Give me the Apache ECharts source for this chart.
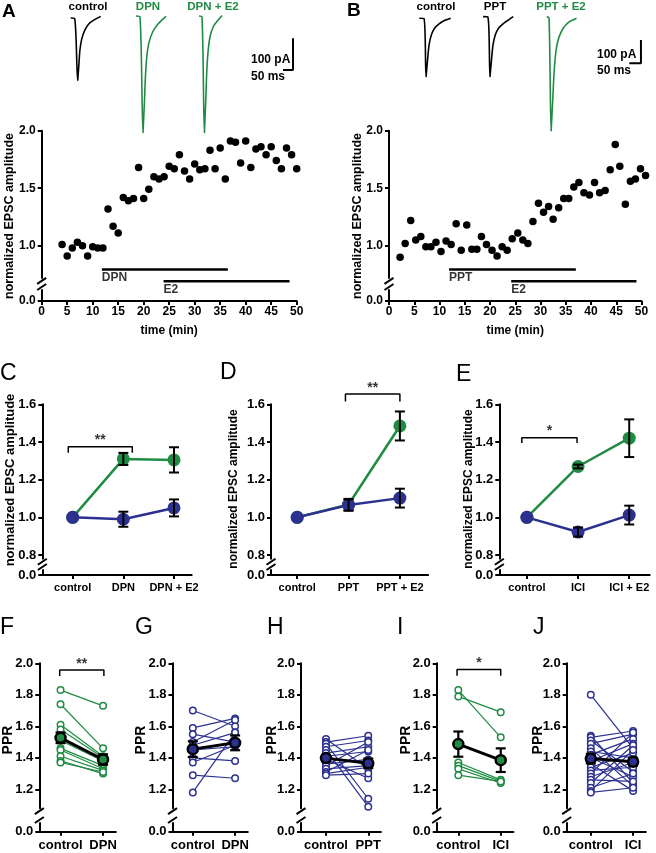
<!DOCTYPE html>
<html><head><meta charset="utf-8">
<script src="https://cdn.jsdelivr.net/npm/echarts@6/dist/echarts.min.js"></script>
<style>html,body{margin:0;padding:0;background:#fff}#c{width:656px;height:853px}</style>
</head><body><div id="c"></div><script>
// ---------------- DATA ----------------
// Panel A time course (DPN then E2)
const timeA = [4,5,6,7,8,9,10,11,12,13,14,15,16,17,18,19,20,21,22,23,24,25,26,27,28,29,30,31,32,33,34,35,36,37,38,39,40,41,42,43,44,45,46,47,48,49,50];
const ampA = [1.01,0.91,0.98,1.03,1.00,0.91,0.99,0.98,0.98,1.32,1.17,1.11,1.42,1.39,1.41,1.68,1.41,1.49,1.60,1.58,1.60,1.69,1.67,1.79,1.65,1.58,1.71,1.66,1.67,1.83,1.67,1.85,1.58,1.91,1.90,1.72,1.91,1.68,1.84,1.86,1.79,1.86,1.74,1.67,1.85,1.79,1.67];
// Panel B time course (PPT then E2)
const timeB = [2.2,3.2,4.3,5.3,6.3,7.3,8.3,9.3,10.3,11.3,12.3,13.3,14.3,15.4,16.4,17.4,18.3,19.3,20.4,21.4,22.4,23.4,24.4,25.5,26.5,27.5,28.5,29.6,30.6,31.6,32.5,33.6,34.6,35.6,36.6,37.6,38.6,39.7,40.7,41.7,42.8,43.8,44.8,45.7,46.8,47.8,48.8,49.8,50.8];
const ampB = [0.90,1.02,1.22,1.05,1.08,0.99,0.99,1.03,0.95,1.04,1.01,1.19,0.96,1.18,0.97,0.97,1.08,1.01,0.96,0.91,0.99,0.96,1.06,1.11,1.05,1.02,1.21,1.37,1.29,1.34,1.23,1.33,1.41,1.41,1.51,1.55,1.46,1.44,1.55,1.46,1.48,1.66,1.88,1.69,1.36,1.56,1.58,1.67,1.61];
// drug application bars: [label, start(min), end(min), level]
const barsA = [['DPN',11.8,36.5,0.794],['E2',23.9,48.6,0.69]];
const barsB = [['PPT',11.9,37.0,0.794],['E2',24.2,49.0,0.69]];
const timeTicks = [0,5,10,15,20,25,30,35,40,45,50];
const yTicksAB = [1.0,1.5,2.0];

// EPSC traces (ms, pA)
const trCtrlA_t = [0,20,35,38,41,46,55,70,90,115,150];
const trCtrlA_i = [-3,-5,-200,-200,-150,-105,-70,-42,-22,-10,2];
const trDpnA_t  = [0,20,35,38,42,47,54,65,85,110,150];
const trDpnA_i  = [3,0,-365,-365,-270,-190,-125,-80,-45,-22,2];
const trDpnE2A_t= [0,15,27,30,34,39,46,56,72,95,115];
const trDpnE2A_i= [3,0,-365,-365,-260,-170,-105,-60,-30,-10,5];
const trCtrlB_t = [0,20,29,32,36,42,52,65,85,110,135];
const trCtrlB_i = [-1,-2,-252,-252,-175,-115,-72,-45,-25,-10,-1];
const trPptB_t  = [0,21,30,33,37,43,53,66,86,110,130];
const trPptB_i  = [6,4,-252,-252,-175,-115,-72,-45,-25,-8,6];
const trPptE2B_t= [0,10,19,22,26,32,40,52,70,95,128];
const trPptE2B_i= [6,0,-485,-485,-350,-230,-140,-85,-45,-18,-1];
const scaleBarMs = [0,50,50];
const scaleBarPa = [0,0,100];

// Panels C-E (normalized EPSC amplitude)
const catsC = ['control','DPN','DPN + E2'];
const greenC = [1.0,1.31,1.305], greenCsem = [0,0.032,0.067];
const blueC  = [1.0,0.99,1.05],  blueCsem  = [0,0.04,0.045];
const catsD = ['control','PPT','PPT + E2'];
const greenD = [1.0,1.068,1.485], greenDsem = [0,0.03,0.077];
const blueD  = [1.0,1.065,1.102], blueDsem  = [0,0.03,0.05];
const catsE = ['control','ICI','ICI + E2'];
const greenE = [1.0,1.27,1.42], greenEsem = [0,0.01,0.1];
const blueE  = [1.0,0.922,1.012], blueEsem = [0,0.024,0.05];
const yTicksCDE = [0.8,1.0,1.2,1.4,1.6];
// significance brackets: [x1, x2, y, drop]
const sigC = [-0.087,1.177,1.375,0.032];
const sigD = [0.94,2.0,1.655,0.04];
const sigE = [-0.1,0.98,1.423,0.028];

// Panels F-J (paired-pulse ratio)
const yTicksPPR = [1.2,1.4,1.6,1.8,2.0];
const catsF = ['control','DPN'];
const ctrlF = [1.83,1.74,1.61,1.58,1.51,1.46,1.45,1.41,1.38,1.37];
const drugF = [1.73,1.46,1.41,1.40,1.38,1.35,1.33,1.32,1.30,1.31];
const meanF = [1.527,1.389], semF = [0.034,0.033];
const catsG = ['control','DPN'];
const ctrlG = [1.70,1.59,1.55,1.50,1.48,1.45,1.40,1.37,1.29,1.18];
const drugG = [1.60,1.65,1.50,1.64,1.56,1.47,1.38,1.48,1.27,1.56];
const meanG = [1.455,1.495], semG = [0.05,0.047];
const catsH = ['control','PPT'];
const ctrlH = [1.52,1.50,1.49,1.47,1.45,1.43,1.41,1.39,1.36,1.35,1.33,1.31,1.30,1.29];
const drugH = [1.33,1.54,1.14,1.51,1.09,1.47,1.44,1.27,1.39,1.50,1.35,1.45,1.34,1.30];
const meanH = [1.398,1.365], semH = [0.02,0.03];
const catsI = ['control','ICI'];
const ctrlI = [1.83,1.79,1.37,1.35,1.33,1.29];
const drugI = [1.53,1.69,1.26,1.25,1.24,1.25];
const meanI = [1.487,1.385], semI = [0.08,0.075];
const catsJ = ['control','ICI'];
const ctrlJ = [1.80,1.54,1.53,1.51,1.49,1.46,1.44,1.42,1.40,1.38,1.36,1.34,1.32,1.30,1.28,1.26,1.24,1.21,1.19,1.18];
const drugJ = [1.46,1.24,1.57,1.31,1.55,1.22,1.40,1.52,1.28,1.49,1.19,1.43,1.34,1.56,1.37,1.25,1.48,1.30,1.45,1.21];
const meanJ = [1.395,1.375], semJ = [0.03,0.025];
const sigF = [-0.02,1.02,1.957,0.038];
const sigI = [-0.03,1.0,1.961,0.04];

// ---------------- BUILD ----------------
const FONT = "'Liberation Sans Narrow','Liberation Sans',Arial,sans-serif";
const FONT2 = "'Liberation Sans',Arial,sans-serif";
const GREEN = '#1f8b43', BLUE = '#2c3190';
const grids = [], xAxes = [], yAxes = [], series = [], graphic = [];

function addAxes(grid, xa, ya) {
  grids.push(Object.assign({outerBoundsMode:'none', containLabel:false}, grid));
  const gi = grids.length - 1;
  xAxes.push(Object.assign({gridIndex:gi}, xa));
  yAxes.push(Object.assign({gridIndex:gi}, ya));
  return gi;
}
const axLine = {show:true, onZero:false, lineStyle:{color:'#000', width:2}};
function tick(vals){ return {show:true, customValues:vals, length:4, inside:false, lineStyle:{color:'#000', width:2}}; }
function lab(vals, fs, fmt, margin){ return {show:true, customValues:vals, formatter:fmt, fontFamily:FONT, fontWeight:'bold', fontSize:fs, color:'#000', margin:margin}; }
const hidden = (min,max) => ({type:'value', min, max, show:false});

function brokenPanel(o) {
  const hMain = (o.ymax - o.ymin) * o.ppu;
  const main = addAxes({left:o.left, top:o.top, width:o.width, height:hMain},
    hidden(o.xmin, o.xmax),
    {type:'value', min:o.ymin, max:o.ymax, axisLine:axLine, axisTick:tick(o.yTicks),
     axisLabel:lab(o.yTicks, o.fsY, v => v.toFixed(1), o.ymargin), splitLine:{show:false}});
  const xa = {type:'value', min:o.xmin, max:o.xmax, axisLine:axLine, axisTick:tick(o.xTicks),
     axisLabel:lab(o.xTicks, o.fsX, o.xFmt, o.xmargin), splitLine:{show:false}};
  if (o.xName) Object.assign(xa, {name:o.xName, nameLocation:'middle', nameGap:o.nameGap,
     nameTextStyle:{fontFamily:FONT, fontWeight:'bold', fontSize:o.fsX, color:'#000'}});
  const zero = addAxes({left:o.left, top:o.zeroTop, width:o.width, height:o.zeroBottom - o.zeroTop}, xa,
    {type:'value', min:0, max:1, axisLine:axLine, axisTick:tick([0]),
     axisLabel:lab([0], o.fsY, () => '0.0', o.ymargin), splitLine:{show:false}});
  const mb = o.top + hMain;
  [mb + 3, o.zeroTop - 3].forEach(y => graphic.push({type:'line', z:100,
    shape:{x1:o.left - 4.5, y1:y + 3, x2:o.left + 4.5, y2:y - 3}, style:{stroke:'#000', lineWidth:2}}));
  return {main, zero};
}

function textSeries(ai, pts, labelOpt) {
  series.push({type:'scatter', xAxisIndex:ai, yAxisIndex:ai, symbolSize:0.1, clip:false, silent:true, z:10,
    itemStyle:{color:'rgba(0,0,0,0)'},
    data: pts.map(p => ({value:[p[0], p[1]], label:Object.assign({show:true, formatter:p[2], color:'#000',
      fontFamily:FONT, fontWeight:'bold'}, labelOpt)}))});
}
function errSeries(ai, data, cap, width, z) {
  series.push({type:'custom', xAxisIndex:ai, yAxisIndex:ai, z:z, clip:false, silent:true,
    encode:{x:0, y:[1,2]}, data:data,
    renderItem(params, api) {
      const x = api.value(0), p1 = api.coord([x, api.value(1)]), p2 = api.coord([x, api.value(2)]);
      const st = {stroke:'#000', lineWidth:width};
      return {type:'group', children:[
        {type:'line', shape:{x1:p1[0], y1:p1[1], x2:p2[0], y2:p2[1]}, style:st},
        {type:'line', shape:{x1:p1[0]-cap, y1:p1[1], x2:p1[0]+cap, y2:p1[1]}, style:st},
        {type:'line', shape:{x1:p2[0]-cap, y1:p2[1], x2:p2[0]+cap, y2:p2[1]}, style:st}]};
    }});
}
function bracket(ai, sig, stars, dist) {
  const [x1, x2, y, d] = sig;
  series.push({type:'line', xAxisIndex:ai, yAxisIndex:ai, clip:false, silent:true, symbol:'none', z:6,
    data:[[x1, y - d],[x1, y],[x2, y],[x2, y - d]], lineStyle:{color:'#000', width:1.5}});
  textSeries(ai, [[(x1 + x2) / 2, y, stars]], {position:'top', distance:dist, fontSize:14, fontFamily:FONT2});
}
function vtext(x, y, text, fs) {
  graphic.push({type:'text', x, y, rotation:Math.PI/2, z:100,
    style:{text, fill:'#000', font:`bold ${fs}px ${FONT}`, textAlign:'center', textVerticalAlign:'middle'}});
}
function htext(x, y, text, fs, color, align, family, weight) {
  graphic.push({type:'text', x, y, z:100,
    style:{text, fill:color || '#000', font:`${weight || 'bold'} ${fs}px ${family || FONT}`, textAlign:align || 'center', textVerticalAlign:'middle'}});
}

// ---- traces ----
function traceGrid(left, top, w, h, xmax, ymin, ymax) {
  return addAxes({left, top, width:w, height:h}, hidden(0, xmax), hidden(ymin, ymax));
}
function traceSeries(ai, t, i, color) {
  series.push({type:'line', xAxisIndex:ai, yAxisIndex:ai, data:t.map((v, k) => [v, i[k]]), symbol:'none',
    smooth:0.3, clip:false, silent:true, lineStyle:{color, width:1.6}});
}
traceSeries(traceGrid(70.7, 10.66, 32, 133.1, 160, -400, 20), trCtrlA_t, trCtrlA_i, '#000');
traceSeries(traceGrid(136, 10.66, 32, 133.1, 160, -400, 20), trDpnA_t, trDpnA_i, GREEN);
traceSeries(traceGrid(199, 10.66, 32, 133.1, 160, -400, 20), trDpnE2A_t, trDpnE2A_i, GREEN);
traceSeries(traceGrid(419.3, 8.68, 32.6, 125.8, 140, -500, 40), trCtrlB_t, trCtrlB_i, '#000');
traceSeries(traceGrid(483, 8.68, 32.6, 125.8, 140, -500, 40), trPptB_t, trPptB_i, '#000');
traceSeries(traceGrid(546.7, 8.68, 32.6, 125.8, 140, -500, 40), trPptE2B_t, trPptE2B_i, GREEN);
[[283, 38.3, 10, 31.7], [629.3, 40, 11.65, 23.3]].forEach(g => {
  const ai = traceGrid(g[0], g[1], g[2], g[3], 50, 0, 100);
  series.push({type:'line', xAxisIndex:ai, yAxisIndex:ai, data:scaleBarMs.map((v, k) => [v, scaleBarPa[k]]),
    symbol:'none', clip:false, silent:true, lineStyle:{color:'#000', width:2}});
});
htext(88, 7, 'control', 11.5); htext(148, 7, 'DPN', 11.5, GREEN); htext(213, 7, 'DPN + E2', 11.5, GREEN);
htext(436, 7, 'control', 11.5); htext(495, 7, 'PPT', 11.5); htext(561, 7, 'PPT + E2', 11.5, GREEN);
htext(251, 60, '100 pA', 12, '#000', 'left'); htext(251, 77, '50 ms', 12, '#000', 'left');
htext(597, 54.5, '100 pA', 12, '#000', 'left'); htext(597, 71, '50 ms', 12, '#000', 'left');

// ---- A & B ----
function timePanel(left, width, time, amp, bars) {
  const p = brokenPanel({left, width, xmin:0, xmax:50, top:130.7, ymin:0.72, ymax:2.0, ppu:115, zeroTop:290, zeroBottom:301,
    yTicks:yTicksAB, xTicks:timeTicks, xFmt:v => String(v), fsY:12, fsX:12, ymargin:6, xmargin:5, xName:'time (min)', nameGap:24});
  series.push({type:'scatter', xAxisIndex:p.main, yAxisIndex:p.main, clip:false, silent:true, symbolSize:7.5,
    itemStyle:{color:'#000', opacity:1}, data:time.map((t, k) => [t, amp[k]])});
  bars.forEach(b => {
    series.push({type:'line', xAxisIndex:p.main, yAxisIndex:p.main, clip:false, silent:true, symbol:'none',
      data:[[b[1], b[3]],[b[2], b[3]]], lineStyle:{color:'#000', width:2.5}});
    textSeries(p.main, [[b[1], b[3], b[0]]], {position:[0, 2], align:'left', verticalAlign:'top', fontSize:12});
  });
  return p;
}
timePanel(41.7, 255, timeA, ampA, barsA);
timePanel(389, 252.5, timeB, ampB, barsB);
vtext(10, 216, 'normalized EPSC amplitude', 12.5);
vtext(358, 216, 'normalized EPSC amplitude', 12.5);

// ---- C, D, E ----
function groupPanel(left, xmin, xmax, unit, cats, g, gs, b, bs, sig, stars) {
  const p = brokenPanel({left, width:(xmax - xmin) * unit, xmin, xmax, top:404.3, ymin:0.78, ymax:1.6, ppu:188.4,
    zeroTop:570, zeroBottom:575, yTicks:yTicksCDE, xTicks:[0,1,2], xFmt:v => cats[Math.round(v)],
    fsY:13, fsX:11, ymargin:6, xmargin:7});
  [[g, gs, GREEN, 3], [b, bs, BLUE, 4]].forEach(([vals, sems, col, z]) => {
    series.push({type:'line', xAxisIndex:p.main, yAxisIndex:p.main, clip:false, silent:true, z:z,
      data:vals.map((v, k) => [k, v]), symbol:'circle', symbolSize:13, lineStyle:{color:col, width:2.5},
      itemStyle:{color:col, opacity:1}});
    errSeries(p.main, vals.map((v, k) => [k, v - sems[k], v + sems[k]]).filter((d, k) => sems[k] > 0), 5, 2, z + 0.5);
  });
  bracket(p.main, sig, stars, -1);
  return p;
}
groupPanel(42.3, -0.6, 2.35, 50.65, catsC, greenC, greenCsem, blueC, blueCsem, sigC, '**');
groupPanel(271, -0.51, 2.55, 51.35, catsD, greenD, greenDsem, blueD, blueDsem, sigD, '**');
groupPanel(499.3, -0.54, 2.4, 51.15, catsE, greenE, greenEsem, blueE, blueEsem, sigE, '*');
vtext(10, 480, 'normalized EPSC amplitude', 13);
vtext(234, 489, 'normalized EPSC amplitude', 12);
vtext(469, 489, 'normalized EPSC amplitude', 12);

// ---- F-J ----
function pprPanel(left, xmin, unit, cats, ctrl, drug, mean, sem, col, sig, stars) {
  const xmax = 1.3;
  const p = brokenPanel({left, width:(xmax - xmin) * unit, xmin, xmax, top:663.3, ymin:1.08, ymax:2.0, ppu:157.5,
    zeroTop:823, zeroBottom:831.7, yTicks:yTicksPPR, xTicks:[0,1], xFmt:v => cats[Math.round(v)],
    fsY:13, fsX:13, ymargin:6, xmargin:7});
  ctrl.forEach((c, k) => series.push({type:'line', xAxisIndex:p.main, yAxisIndex:p.main, clip:false, silent:true, z:2,
    data:[[0, c],[1, drug[k]]], symbol:'circle', symbolSize:6.5, showSymbol:true,
    lineStyle:{color:col, width:1.2}, itemStyle:{color:'#fff', borderColor:col, borderWidth:1.5, opacity:1}}));
  errSeries(p.main, mean.map((m, k) => [k, m - sem[k], m + sem[k]]), 5, 2.2, 3);
  series.push({type:'line', xAxisIndex:p.main, yAxisIndex:p.main, clip:false, silent:true, z:4,
    data:mean.map((m, k) => [k, m]), symbol:'circle', symbolSize:10,
    lineStyle:{color:'#000', width:3}, itemStyle:{color:col, borderColor:'#000', borderWidth:2.5, opacity:1}});
  if (sig) bracket(p.main, sig, stars, -1);
  return p;
}
pprPanel(39.3, -0.5, 42.5, catsF, ctrlF, drugF, meanF, semF, GREEN, sigF, '**');
pprPanel(172.5, -0.48, 42.3, catsG, ctrlG, drugG, meanG, semG, BLUE);
pprPanel(301, -0.59, 42.3, catsH, ctrlH, drugH, meanH, semH, BLUE);
pprPanel(436.7, -0.51, 42.4, catsI, ctrlI, drugI, meanI, semI, GREEN, sigI, '*');
pprPanel(566.7, -0.57, 42.3, catsJ, ctrlJ, drugJ, meanJ, semJ, BLUE);
[8, 141.5, 272, 406, 538].forEach(x => vtext(x, 740, 'PPR', 14));

// panel letters (left aligned)
[['A',2,11.5,19,'bold'],['B',347,10.5,19,'bold'],['C',0,373.5,23,'normal'],['D',220,373,23,'normal'],
 ['E',456,375,23,'normal'],['F',0,627.5,23,'normal'],['G',135,627.5,23,'normal'],['H',267,627.5,23,'normal'],
 ['I',397,627.5,23,'normal'],['J',533,628,23,'normal']].forEach(l => htext(l[1], l[2], l[0], l[3], '#000', 'left', FONT2, l[4]));

const chart = echarts.init(document.getElementById('c'), null, {renderer:'canvas', width:656, height:853});
chart.setOption({animation:false, backgroundColor:'#fff', grid:grids, xAxis:xAxes, yAxis:yAxes, series, graphic});
</script></body></html>
